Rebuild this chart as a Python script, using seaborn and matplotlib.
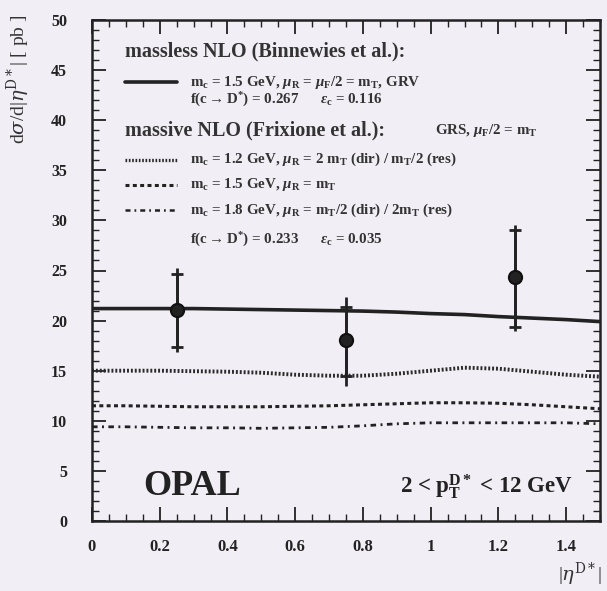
import numpy as np
import pandas as pd
import matplotlib
matplotlib.use("Agg")
import matplotlib.pyplot as plt
from matplotlib.ticker import MultipleLocator
import seaborn as sns

# ---------------- data ----------------
eta_grid = [0.0, 0.1, 0.2, 0.3, 0.4, 0.5, 0.6, 0.7, 0.8, 0.9, 1.0, 1.1, 1.2, 1.3, 1.4, 1.5]
massless_15 = [21.2, 21.2, 21.2, 21.2, 21.15, 21.1, 21.05, 21.0, 20.95, 20.85, 20.7, 20.6, 20.4, 20.25, 20.1, 19.9]
massive_12 = [15.0, 15.0, 15.0, 14.95, 14.9, 14.8, 14.6, 14.5, 14.5, 14.7, 15.0, 15.3, 15.2, 14.9, 14.6, 14.4]
massive_15 = [11.5, 11.5, 11.45, 11.4, 11.4, 11.4, 11.45, 11.5, 11.6, 11.7, 11.8, 11.8, 11.75, 11.6, 11.4, 11.2]
massive_18 = [9.4, 9.4, 9.35, 9.3, 9.3, 9.25, 9.3, 9.35, 9.5, 9.7, 9.8, 9.8, 9.8, 9.8, 9.8, 9.7]

data_eta = [0.25, 0.75, 1.25]
data_xsec = [21.1, 18.05, 24.4]
stat_lo = [17.4, 14.5, 19.4]
stat_hi = [24.7, 21.4, 29.0]
tot_lo = [16.9, 13.5, 19.0]
tot_hi = [25.2, 22.4, 29.5]

x_ticks = [0, 0.2, 0.4, 0.6, 0.8, 1.0, 1.2, 1.4]
x_ticklabels = ["0", "0.2", "0.4", "0.6", "0.8", "1", "1.2", "1.4"]
y_ticks = [0, 5, 10, 15, 20, 25, 30, 35, 40, 45, 50]

# ---------------- style ----------------
sns.set_style("ticks")
bg = "#f2eef5"
plt.rcParams["font.family"] = ["Liberation Serif", "DejaVu Serif"]
plt.rcParams["mathtext.fontset"] = "custom"
plt.rcParams["mathtext.rm"] = "Liberation Serif:bold"
plt.rcParams["mathtext.it"] = "Liberation Serif:italic:bold"
plt.rcParams["mathtext.bf"] = "Liberation Serif:bold"

fig = plt.figure(figsize=(6.07, 5.91), dpi=100, facecolor=bg)
ax = fig.add_axes([92 / 607, 70 / 591, 508 / 607, 501 / 591])
ax.set_facecolor(bg)

df = pd.DataFrame({"eta": eta_grid, "a": massless_15, "b": massive_12,
                   "c": massive_15, "d": massive_18})

sns.lineplot(data=df, x="eta", y="a", ax=ax, color="#222222", lw=2.6)
sns.lineplot(data=df, x="eta", y="b", ax=ax, color="#2a2a2a", lw=2.8,
             linestyle=(0, (0.5, 0.5)))
sns.lineplot(data=df, x="eta", y="c", ax=ax, color="#222222", lw=2.2,
             linestyle=(0, (1.3, 1.1)))
sns.lineplot(data=df, x="eta", y="d", ax=ax, color="#222222", lw=2.0,
             linestyle=(0, (2.0, 1.6, 0.7, 1.6)))

dx = np.array(data_eta)
dy = np.array(data_xsec)
ax.errorbar(dx, dy, yerr=[dy - np.array(tot_lo), np.array(tot_hi) - dy],
            fmt="none", ecolor="#222222", elinewidth=2.0, capsize=0)
ax.errorbar(dx, dy, yerr=[dy - np.array(stat_lo), np.array(stat_hi) - dy],
            fmt="none", ecolor="#222222", elinewidth=2.0, capsize=4, capthick=2)
sns.scatterplot(x=data_eta, y=data_xsec, ax=ax, s=90, color="#222222",
                edgecolor="#111111", linewidth=1.5, zorder=5)

ax.set_xlim(0, 1.5)
ax.set_ylim(0, 50)
ax.set_xticks(x_ticks)
ax.set_xticklabels(x_ticklabels)
ax.set_yticks(y_ticks)
ax.xaxis.set_minor_locator(MultipleLocator(0.05))
ax.yaxis.set_minor_locator(MultipleLocator(1))
ax.tick_params(which="both", direction="in", top=True, right=True, colors="#222222")
ax.tick_params(which="major", length=10, width=1.3)
ax.tick_params(which="minor", length=5, width=1.0)
ax.tick_params(axis="x", which="major", pad=13, labelsize=12)
ax.tick_params(axis="y", which="major", pad=18, labelsize=11.5)
for lab in ax.get_xticklabels() + ax.get_yticklabels():
    lab.set_fontweight("bold")
for sp in ax.spines.values():
    sp.set_linewidth(1.8)
    sp.set_color("#222222")

ax.set_xlabel("")
ax.set_ylabel("")
fig.text(18 / 607, 1 - 14 / 591, r"d$\sigma$/d|$\eta^{\rm D*}$| [ pb ]", rotation=90,
         ha="center", va="top", fontsize=14, color="#333333",
         math_fontfamily="dejavuserif")
fig.text(602 / 607, 1 - 574 / 591, r"|$\eta^{\rm D*}$|", ha="right", va="center",
         fontsize=14, color="#333333", math_fontfamily="dejavuserif")

# ---------------- legend block ----------------
tc = "#333333"
T = ax.transAxes
fs_head = 14.5
fs_sub = 10.8
ax.text(0.065, 0.938, "massless NLO (Binnewies et al.):", transform=T, fontsize=fs_head,
        fontweight="bold", va="center", color=tc)
ax.plot([0.065, 0.167], [0.876, 0.876], transform=T, color="#222222", lw=2.6)
ax.text(0.193, 0.876, r"m$_{\rm c}$ = 1.5 GeV, $\mu_{\rm R}$ = $\mu_{\rm F}$/2 = m$_{\rm T}$, GRV",
        transform=T, fontsize=fs_sub, va="center", color=tc, fontweight="bold")
ax.text(0.193, 0.840, r"f(c$\rightarrow$D$^{*}$) = 0.267      $\epsilon_{\rm c}$ = 0.116",
        transform=T, fontsize=fs_sub, va="center", color=tc, fontweight="bold")
ax.text(0.065, 0.780, "massive NLO (Frixione et al.):", transform=T, fontsize=fs_head,
        fontweight="bold", va="center", color=tc)
ax.text(0.675, 0.780, r"GRS, $\mu_{\rm F}$/2 = m$_{\rm T}$", transform=T, fontsize=fs_sub,
        fontweight="bold", va="center", color=tc)
ax.plot([0.065, 0.167], [0.721, 0.721], transform=T, color="#2a2a2a", lw=2.4,
        linestyle=(0, (0.5, 0.5)))
ax.text(0.193, 0.721, r"m$_{\rm c}$ = 1.2 GeV, $\mu_{\rm R}$ = 2 m$_{\rm T}$ (dir) / m$_{\rm T}$/2 (res)",
        transform=T, fontsize=fs_sub, va="center", color=tc, fontweight="bold")
ax.plot([0.065, 0.167], [0.671, 0.671], transform=T, color="#222222", lw=2.2,
        linestyle=(0, (1.3, 1.1)))
ax.text(0.193, 0.671, r"m$_{\rm c}$ = 1.5 GeV, $\mu_{\rm R}$ = m$_{\rm T}$",
        transform=T, fontsize=fs_sub, va="center", color=tc, fontweight="bold")
ax.plot([0.065, 0.167], [0.621, 0.621], transform=T, color="#222222", lw=1.8,
        linestyle=(0, (2.0, 1.6, 0.7, 1.6)))
ax.text(0.193, 0.621, r"m$_{\rm c}$ = 1.8 GeV, $\mu_{\rm R}$ = m$_{\rm T}$/2 (dir) / 2m$_{\rm T}$ (res)",
        transform=T, fontsize=fs_sub, va="center", color=tc, fontweight="bold")
ax.text(0.193, 0.561, r"f(c$\rightarrow$D$^{*}$) = 0.233      $\epsilon_{\rm c}$ = 0.035",
        transform=T, fontsize=fs_sub, va="center", color=tc, fontweight="bold")

ax.text(0.100, 0.068, "OPAL", transform=T, fontsize=26, fontweight="bold",
        va="center", ha="left", color="#222222")
ax.text(0.947, 0.068, r"2 < p$_{\rm T}^{\rm D*}$ < 12 GeV", transform=T, fontsize=16.5,
        fontweight="bold", va="center", ha="right", color="#222222")

fig.savefig("out.png", dpi=100, facecolor=bg)
